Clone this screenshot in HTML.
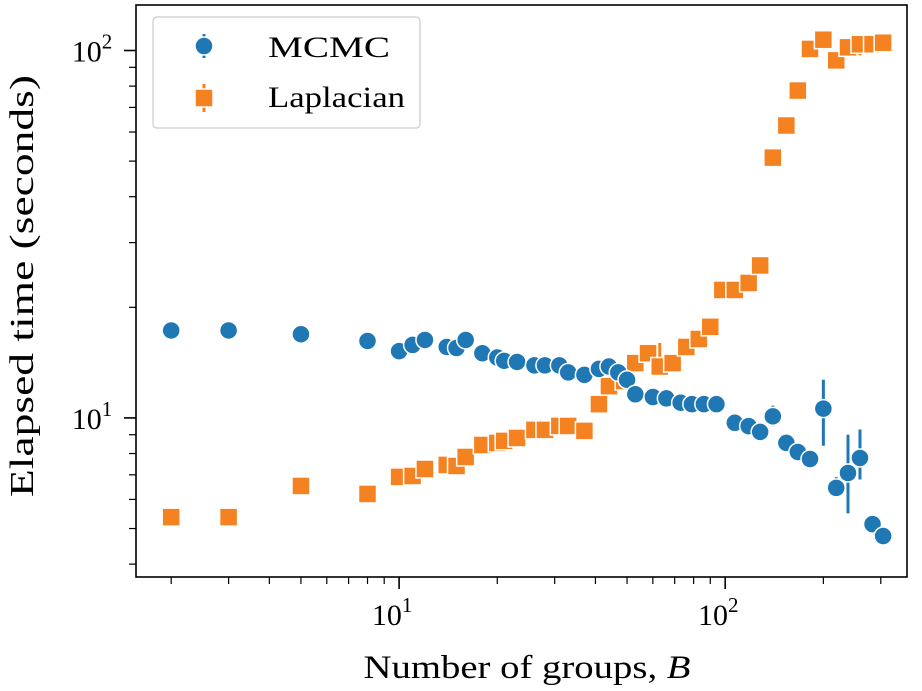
<!DOCTYPE html>
<html><head><meta charset="utf-8">
<style>
html,body{margin:0;padding:0;background:#fff;}
svg{display:block;font-family:"Liberation Serif",serif;}
</style></head>
<body>
<svg id="chart" width="922" height="691" viewBox="0 0 922 691">
  <g id="marks"></g>
  <rect x="136" y="5" width="771" height="572" fill="none" stroke="#000" stroke-width="1.6"/>
  <g id="axes"></g>
  <text x="527" y="678" text-anchor="middle" font-size="33" textLength="327" lengthAdjust="spacingAndGlyphs">Number of groups, <tspan font-style="italic">B</tspan></text>
  <text transform="translate(33,286) rotate(-90)" text-anchor="middle" font-size="34" textLength="422" lengthAdjust="spacingAndGlyphs">Elapsed time (seconds)</text>
  <g>
    <rect x="153" y="17" width="267" height="111" rx="4" fill="#fff" stroke="#ccc" stroke-width="1.2"/>
    <g>
      <line x1="204" y1="34" x2="204" y2="58" stroke="#1f77b4" stroke-width="3"/>
      <circle cx="204" cy="46" r="9" fill="#1f77b4" stroke="#fff" stroke-width="1.5"/>
      <text x="268" y="57" font-size="30" textLength="122" lengthAdjust="spacingAndGlyphs">MCMC</text>
    </g>
    <g>
      <line x1="204" y1="84" x2="204" y2="112" stroke="#f58220" stroke-width="3"/>
      <rect x="195" y="89" width="18" height="18" fill="#f58220" stroke="#fff" stroke-width="1.5"/>
      <text x="268" y="107" font-size="30" textLength="137" lengthAdjust="spacingAndGlyphs">Laplacian</text>
    </g>
  </g>
</svg>
<script>
const mcmcB = [2,3,5,8,10,11,12,14,15,16,18,20,21,23,26,28,31,33,37,41,44,47,50,53,60,66,73,79,86,94,107,118,128,140,154,167,182,200,219,238,259,283,305];
const mcmcTime = [17.3,17.3,16.9,16.2,15.2,15.8,16.3,15.6,15.5,16.3,15.0,14.6,14.3,14.2,13.9,13.9,13.9,13.3,13.1,13.6,13.8,13.3,12.7,11.6,11.4,11.3,11.0,10.9,10.9,10.9,9.7,9.5,9.16,10.1,8.55,8.08,7.73,10.6,6.45,7.08,7.78,5.14,4.77];
const mcmcLow = [0,0,16.5,0,0,0,0,0,0,15.6,0,0,0,0,0,0,0,0,0,0,13.2,0,0,0,0,0,0,0,0,0,0,0,0,9.5,0,0,0,8.4,6.2,5.5,6.8,4.95,4.6];
const mcmcHigh = [0,0,17.4,0,0,0,0,0,0,17.2,0,0,0,0,0,0,0,0,0,0,14.6,0,0,0,0,0,0,0,0,0,0,0,0,10.8,0,0,0,12.7,6.9,9.0,9.3,5.35,4.95];
const lapB = [2,3,5,8,10,11,12,14,15,16,18,20,21,23,26,28,31,33,37,41,44,49,53,58,63,69,76,83,90,98,107,118,128,140,154,167,182,200,219,238,259,283,305];
const lapTime = [5.37,5.37,6.53,6.21,6.91,6.95,7.26,7.45,7.4,7.83,8.44,8.55,8.66,8.82,9.28,9.28,9.51,9.51,9.22,10.9,12.2,12.6,14.1,15.0,13.8,14.1,15.6,16.4,17.7,22.3,22.3,23.3,26.0,51.1,62.5,77.8,101,107,94,102,104,104,105];
const lapLow = [0,0,6.4,0,0,0,0,0,0,0,0,0,0,0,0,0,0,0,0,0,0,0,0,0,14.5,0,0,0,0,0,0,0,0,0,0,0,0,0,89,98,97,98,99];
const lapHigh = [0,0,6.7,0,0,0,0,0,0,0,0,0,0,0,0,0,0,0,0,0,0,0,0,0,16.0,0,0,0,0,0,0,0,0,0,0,0,0,0,99,107,110,109,111];
const xMajor = [10,100];
const yMajor = [10,100];

const NS = "http://www.w3.org/2000/svg";
const X0 = 136, X1 = 907, Y0 = 577, Y1 = 5;
const xMin = Math.log10(1.56), xMax = Math.log10(361);
const yMin = Math.log10(3.69), yMax = Math.log10(133);
function xs(v){ return X0 + (Math.log10(v)-xMin)/(xMax-xMin)*(X1-X0); }
function ys(v){ return Y0 - (Math.log10(v)-yMin)/(yMax-yMin)*(Y0-Y1); }
function mk(tag, attrs, parent){ const e=document.createElementNS(NS,tag); for(const k in attrs) e.setAttribute(k,attrs[k]); parent.appendChild(e); return e; }

const axes = document.getElementById('axes');
for (let d=1; d<=100; d*=10){
  for (let m=1; m<=9; m++){
    const v=d*m; if (v<1.56||v>361) continue;
    const major = (m===1);
    const t = mk('line',{x1:xs(v),x2:xs(v),y1:Y0,y2:Y0+(major?12:7),stroke:'#000','stroke-width':major?1.6:1.2},axes);
    
    
  }
}
xMajor.forEach((v,i)=>{
  const t = mk('text',{x:xs(v)-7,y:Y0+48,'text-anchor':'middle','font-size':30},axes);
  t.textContent='10';
  const s = mk('tspan',{dy:-13,'font-size':21},t); s.textContent=String(Math.round(Math.log10(v)));
  
  
});
for (let d=1; d<=100; d*=10){
  for (let m=1; m<=9; m++){
    const v=d*m; if (v<3.69||v>133) continue;
    const major=(m===1);
    const t = mk('line',{x1:X0-(major?12:7),x2:X0,y1:ys(v),y2:ys(v),stroke:'#000','stroke-width':major?1.6:1.2},axes);
    
    
  }
}
yMajor.forEach(v=>{
  const t = mk('text',{x:X0-44,y:ys(v)+11,'text-anchor':'middle','font-size':30},axes);
  t.textContent='10';
  const s = mk('tspan',{dy:-13,'font-size':21},t); s.textContent=String(Math.round(Math.log10(v)));
  
  
});

const marks = document.getElementById('marks');
function series(B,T,L,H,color,shape,name){
  const g = mk('g',{},marks);
  
  
  B.forEach((b,i)=>{
    if (L[i] && H[i]){
      const e = mk('line',{x1:xs(b),x2:xs(b),y1:ys(L[i]),y2:ys(H[i]),stroke:color,'stroke-width':3},g);
      
      
    }
  });
  B.forEach((b,i)=>{
    let p;
    if (shape==='circle') p = mk('circle',{cx:xs(b),cy:ys(T[i]),r:9,fill:color,stroke:'#fff','stroke-width':1.5},g);
    else p = mk('rect',{x:xs(b)-9,y:ys(T[i])-9,width:18,height:18,fill:color,stroke:'#fff','stroke-width':1.5},g);
    
    
  });
}
series(lapB,lapTime,lapLow,lapHigh,'#f58220','square','laplacian');
series(mcmcB,mcmcTime,mcmcLow,mcmcHigh,'#1f77b4','circle','mcmc');
</script>
</body></html>
